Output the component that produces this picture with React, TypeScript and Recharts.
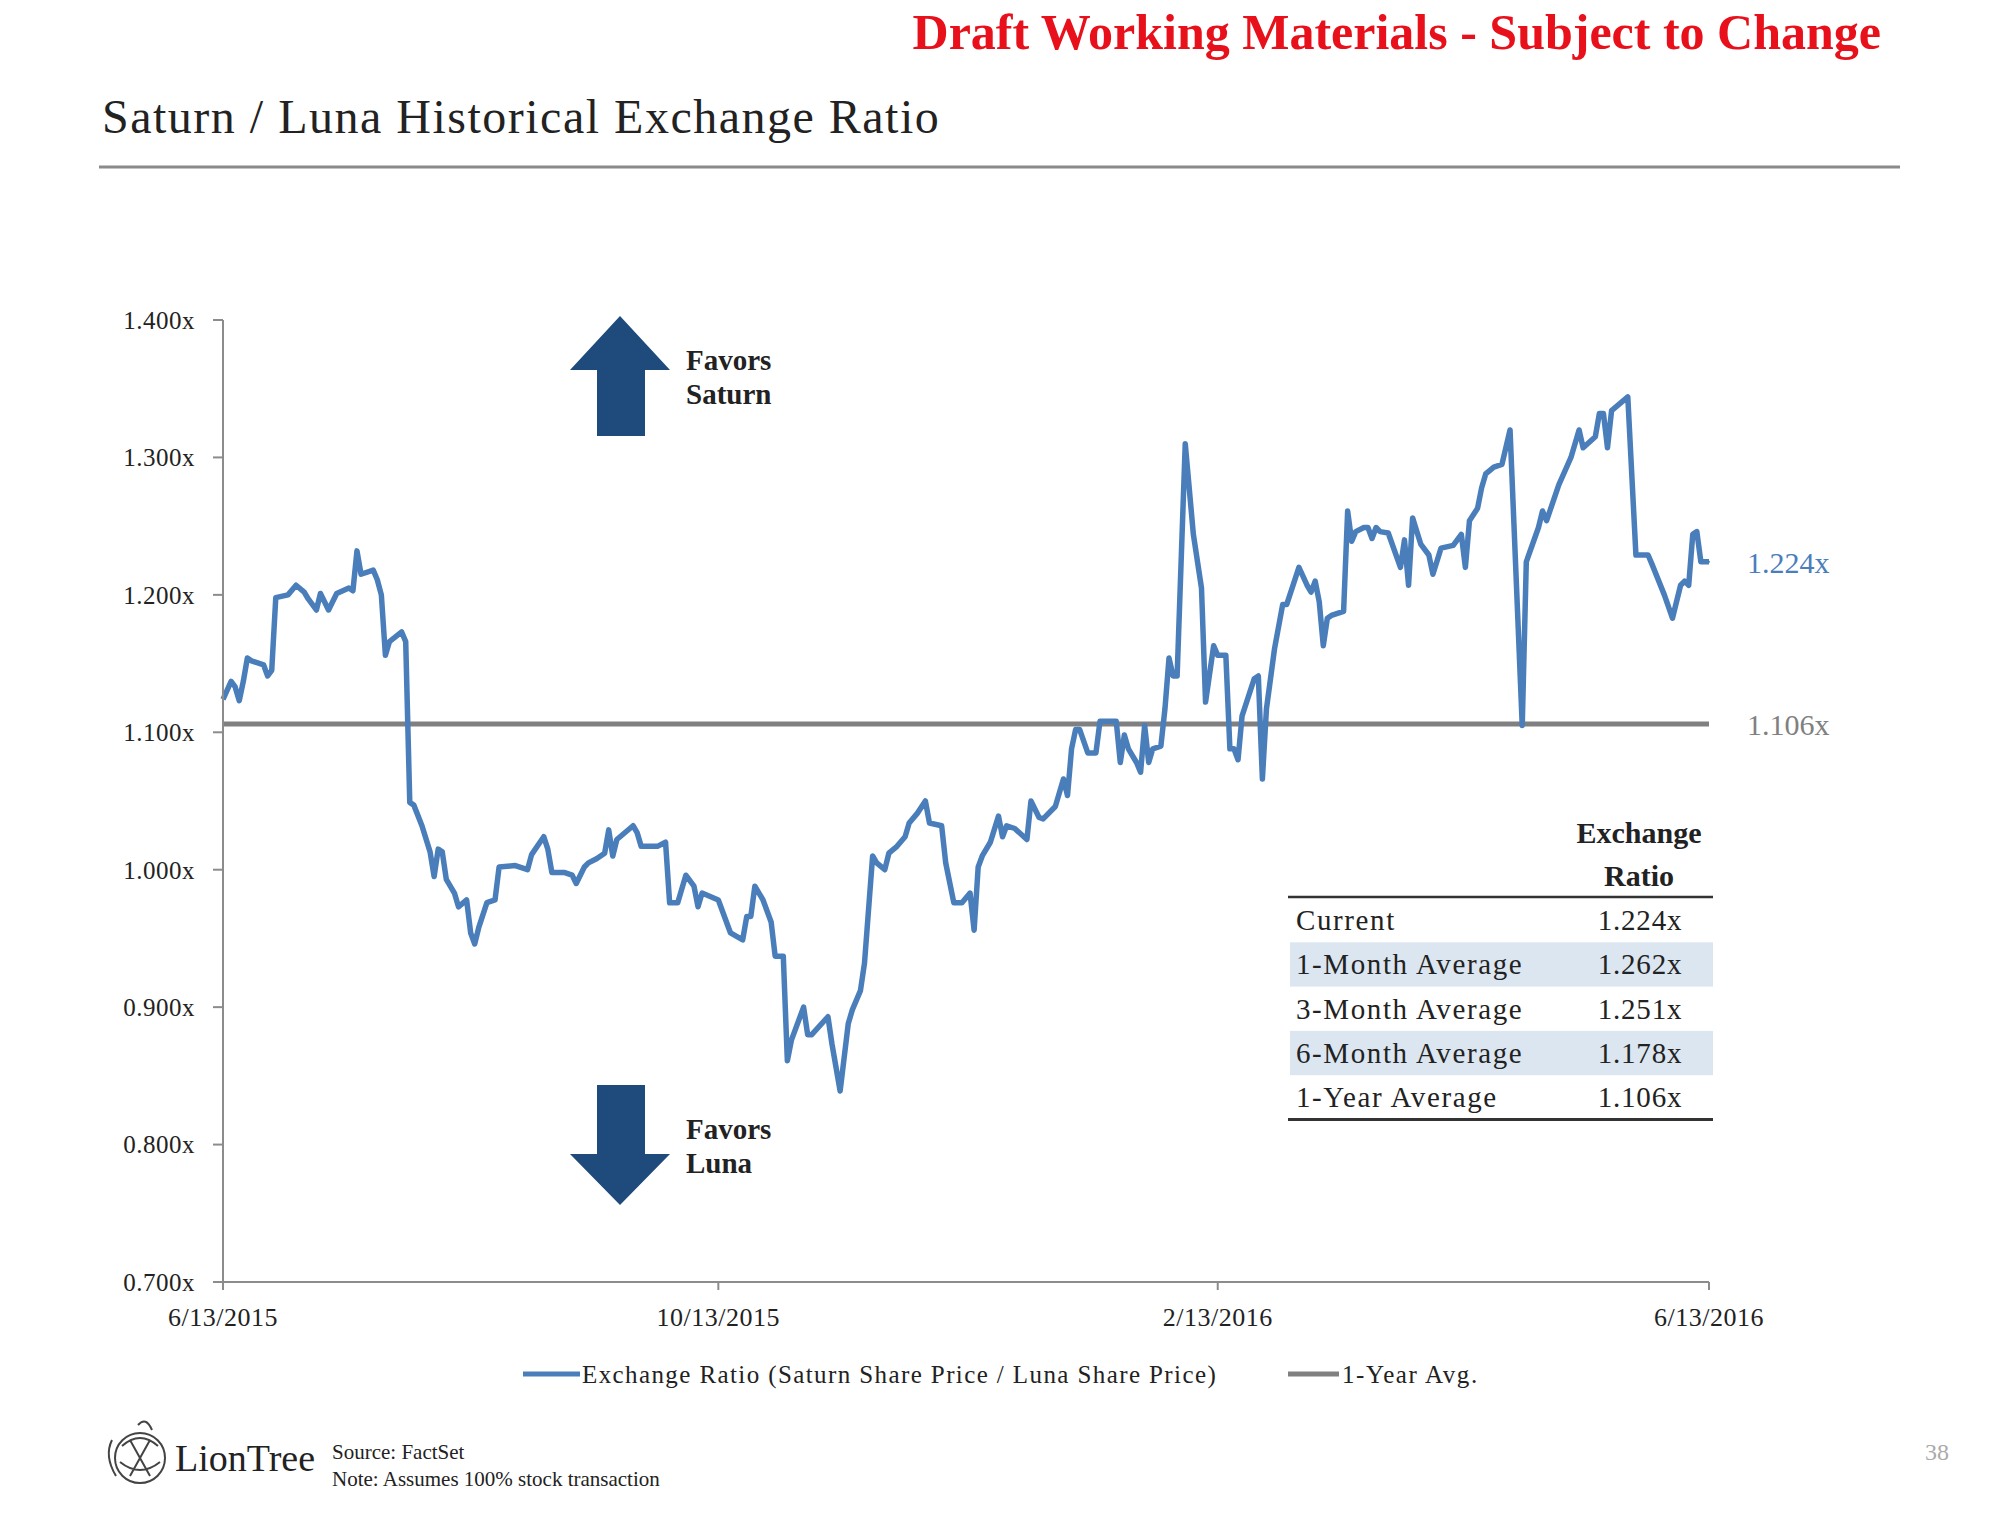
import React from "react";
import { LineChart, Line, XAxis, YAxis, ReferenceLine, ReferenceDot } from "recharts";

// days since 6/13/2015
const dayOffsets = [
  0, 2, 3, 4, 5, 6, 7, 10, 11, 12,
  13, 16, 18, 20, 21, 23, 24, 25, 26, 28,
  31, 32, 33, 34, 37, 38, 39, 40, 41, 44,
  45, 46, 47, 49, 51, 52, 53, 54, 55, 57,
  58, 60, 61, 62, 63, 65, 67, 68, 72, 75,
  76, 79, 80, 81, 84, 86, 87, 89, 90, 92,
  94, 95, 96, 97, 101, 102, 103, 107, 109, 110,
  112, 114, 116, 117, 118, 122, 125, 128, 129, 130,
  131, 133, 135, 136, 138, 139, 140, 143, 144, 145,
  149, 150, 152, 154, 155, 157, 158, 160, 161, 163,
  164, 166, 168, 169, 171, 173, 174, 177, 178, 180,
  182, 184, 185, 186, 187, 189, 191, 192, 193, 195,
  198, 199, 201, 202, 205, 207, 208, 209, 210, 211,
  213, 215, 216, 220, 221, 222, 223, 225, 226, 227,
  228, 229, 231, 232, 233, 234, 235, 237, 239, 241,
  242, 244, 245, 247, 248, 249, 250, 251, 254, 255,
  256, 257, 259, 261, 262, 265, 267, 268, 269, 270,
  271, 272, 273, 276, 277, 278, 279, 281, 282, 283,
  284, 285, 287, 290, 291, 292, 293, 295, 297, 298,
  300, 303, 305, 306, 307, 309, 310, 311, 313, 315,
  317, 320, 321, 324, 325, 326, 329, 332, 334, 335,
  338, 339, 340, 341, 342, 346, 348, 351, 352, 355,
  357, 359, 360, 361, 362, 363, 364, 366,
];

const ratios = [
  1.124, 1.137, 1.133, 1.123, 1.137, 1.154, 1.152, 1.149, 1.141, 1.145,
  1.198, 1.2, 1.207, 1.202, 1.197, 1.189, 1.201, 1.195, 1.189, 1.201,
  1.205, 1.203, 1.232, 1.215, 1.218, 1.211, 1.2, 1.156, 1.166, 1.173,
  1.166, 1.049, 1.047, 1.032, 1.013, 0.995, 1.015, 1.013, 0.993, 0.983,
  0.973, 0.978, 0.954, 0.946, 0.958, 0.976, 0.978, 1.002, 1.003, 1.0,
  1.011, 1.024, 1.015, 0.998, 0.998, 0.996, 0.99, 1.002, 1.005, 1.008,
  1.012, 1.029, 1.01, 1.022, 1.032, 1.027, 1.017, 1.017, 1.02, 0.976,
  0.976, 0.996, 0.988, 0.973, 0.983, 0.978, 0.954, 0.949, 0.966, 0.966,
  0.988, 0.978, 0.962, 0.937, 0.937, 0.861, 0.876, 0.9, 0.88, 0.88,
  0.893, 0.873, 0.839, 0.888, 0.898, 0.912, 0.932, 1.01, 1.005, 1.0,
  1.012, 1.017, 1.024, 1.034, 1.041, 1.05, 1.034, 1.032, 1.005, 0.976,
  0.976, 0.983, 0.956, 1.002, 1.01, 1.02, 1.039, 1.024, 1.032, 1.03,
  1.022, 1.05, 1.038, 1.037, 1.046, 1.066, 1.054, 1.088, 1.102, 1.102,
  1.085, 1.085, 1.108, 1.108, 1.078, 1.098, 1.088, 1.078, 1.071, 1.105,
  1.078, 1.088, 1.09, 1.117, 1.154, 1.141, 1.141, 1.31, 1.244, 1.205,
  1.122, 1.163, 1.156, 1.156, 1.088, 1.088, 1.08, 1.112, 1.139, 1.141,
  1.066, 1.117, 1.161, 1.193, 1.193, 1.22, 1.207, 1.202, 1.21, 1.195,
  1.163, 1.183, 1.185, 1.188, 1.261, 1.239, 1.246, 1.249, 1.249, 1.241,
  1.249, 1.246, 1.245, 1.22, 1.24, 1.207, 1.256, 1.237, 1.229, 1.215,
  1.234, 1.236, 1.244, 1.22, 1.254, 1.263, 1.278, 1.288, 1.293, 1.295,
  1.32, 1.105, 1.224, 1.249, 1.261, 1.254, 1.28, 1.3, 1.32, 1.307,
  1.315, 1.332, 1.332, 1.307, 1.334, 1.344, 1.229, 1.229, 1.222, 1.2,
  1.183, 1.207, 1.21, 1.207, 1.244, 1.246, 1.224, 1.224,
];

const xTicks = [0, 122, 245, 366];
const xTickLabels = ["6/13/2015", "10/13/2015", "2/13/2016", "6/13/2016"];
const yTicks = [0.7, 0.8, 0.9, 1.0, 1.1, 1.2, 1.3, 1.4];

const oneYearAvg = 1.106;
const seriesNames = ["Exchange Ratio (Saturn Share Price / Luna Share Price)", "1-Year Avg."];

const summaryLabels = ["Current", "1-Month Average", "3-Month Average", "6-Month Average", "1-Year Average"];
const summaryValues = [1.224, 1.262, 1.251, 1.178, 1.106];

const BLUE = "#4a7ebb";
const GREY = "#808080";
const NAVY = "#1f4a7c";
const FONT = "'Liberation Serif', 'Times New Roman', serif";

const fmt = (v: number) => v.toFixed(3) + "x";

export default function App() {
  const data = dayOffsets.map((d, i) => ({ day: d, ratio: ratios[i] }));
  const last = data[data.length - 1];

  const rowTop = 898;
  const rowH = 44.3;

  return (
    <div style={{ position: "absolute", left: 0, top: 0, width: 2000, height: 1523, background: "#fff" }}>
      <LineChart
        width={2000}
        height={1523}
        data={data}
        margin={{ top: 320, right: 291, bottom: 181, left: 113 }}
      >
        <XAxis
          dataKey="day"
          type="number"
          domain={[0, 366]}
          ticks={xTicks}
          tickFormatter={(v: number) => xTickLabels[xTicks.indexOf(v)] ?? ""}
          height={60}
          tickSize={8}
          tickMargin={18}
          axisLine={{ stroke: "#8c8c8c", strokeWidth: 2 }}
          tickLine={{ stroke: "#8c8c8c", strokeWidth: 2 }}
          tick={{ fill: "#222", fontSize: 26, fontFamily: FONT, letterSpacing: 0.5 }}
        />
        <YAxis
          type="number"
          domain={[0.7, 1.4]}
          ticks={yTicks}
          tickFormatter={fmt}
          width={110}
          tickSize={10}
          tickMargin={18}
          axisLine={{ stroke: "#8c8c8c", strokeWidth: 2 }}
          tickLine={{ stroke: "#8c8c8c", strokeWidth: 2 }}
          tick={{ fill: "#222", fontSize: 25, fontFamily: FONT, letterSpacing: 0.5 }}
        />
        <ReferenceLine
          y={oneYearAvg}
          stroke={GREY}
          strokeWidth={5}
          label={{ value: fmt(oneYearAvg), position: "right", offset: 38, fill: GREY, fontSize: 30, fontFamily: FONT }}
        />
        <Line
          type="linear"
          dataKey="ratio"
          name={seriesNames[0]}
          stroke={BLUE}
          strokeWidth={5.5}
          strokeLinejoin="round"
          dot={false}
          isAnimationActive={false}
        />
        <ReferenceDot
          x={last.day}
          y={last.ratio}
          r={1}
          fill={BLUE}
          stroke="none"
          label={{ value: fmt(last.ratio), position: "right", offset: 37, fill: BLUE, fontSize: 30, fontFamily: FONT }}
        />
      </LineChart>

      <svg
        width={2000}
        height={1523}
        style={{ position: "absolute", left: 0, top: 0, pointerEvents: "none" }}
        fontFamily={FONT}
      >
        {/* headers */}
        <text x={1881} y={32} textAnchor="end" dominantBaseline="central" fontSize={50} fontWeight="bold" fill="#e8101a">
          Draft Working Materials - Subject to Change
        </text>
        <text x={102} y={116} dominantBaseline="central" fontSize={48} fill="#222" letterSpacing={1.5}>
          Saturn / Luna Historical Exchange Ratio
        </text>
        <line x1={99} x2={1900} y1={167} y2={167} stroke="#8a8a8a" strokeWidth={3} />

        {/* arrows */}
        <polygon points="620,316 670,370 645,370 645,436 597,436 597,370 570,370" fill={NAVY} />
        <text x={686} y={360} dominantBaseline="central" fontSize={29} fontWeight="bold" fill="#222">Favors</text>
        <text x={686} y={394} dominantBaseline="central" fontSize={29} fontWeight="bold" fill="#222">Saturn</text>
        <polygon points="597,1085 645,1085 645,1154 670,1154 620,1205 570,1154 597,1154" fill={NAVY} />
        <text x={686} y={1129} dominantBaseline="central" fontSize={29} fontWeight="bold" fill="#222">Favors</text>
        <text x={686} y={1163} dominantBaseline="central" fontSize={29} fontWeight="bold" fill="#222">Luna</text>

        {/* summary table */}
        <text x={1639} y={832} textAnchor="middle" dominantBaseline="central" fontSize={30} fontWeight="bold" fill="#222">Exchange</text>
        <text x={1639} y={875} textAnchor="middle" dominantBaseline="central" fontSize={30} fontWeight="bold" fill="#222">Ratio</text>
        {summaryLabels.map((lab, i) => (
          <g key={lab}>
            {i % 2 === 1 && (
              <rect x={1290} y={rowTop + i * rowH} width={423} height={rowH} fill="#dce6f1" />
            )}
            <text x={1296} y={rowTop + i * rowH + rowH / 2} dominantBaseline="central" fontSize={29} fill="#222" letterSpacing={1.6}>
              {lab}
            </text>
            <text x={1640} y={rowTop + i * rowH + rowH / 2} textAnchor="middle" dominantBaseline="central" fontSize={29} fill="#222" letterSpacing={0.8}>
              {fmt(summaryValues[i])}
            </text>
          </g>
        ))}
        <line x1={1288} x2={1713} y1={897} y2={897} stroke="#333" strokeWidth={2.5} />
        <line x1={1288} x2={1713} y1={rowTop + 5 * rowH} y2={rowTop + 5 * rowH} stroke="#333" strokeWidth={3} />

        {/* legend */}
        <line x1={523} x2={580} y1={1374} y2={1374} stroke={BLUE} strokeWidth={5} />
        <text x={582} y={1374} dominantBaseline="central" fontSize={25} fill="#222" letterSpacing={1.4}>{seriesNames[0]}</text>
        <line x1={1288} x2={1339} y1={1374} y2={1374} stroke={GREY} strokeWidth={5} />
        <text x={1342} y={1374} dominantBaseline="central" fontSize={25} fill="#222" letterSpacing={1.6}>{seriesNames[1]}</text>

        {/* footer */}
        <g stroke="#444" strokeWidth={2} fill="none">
          <circle cx={140} cy={1458} r={25} />
          <path d="M122,1446 Q140,1430 158,1446 M120,1462 Q140,1478 160,1462 M130,1440 L150,1476 M150,1440 L130,1476" />
          <path d="M112,1440 Q104,1456 116,1476 M138,1425 Q146,1416 152,1430" />
        </g>
        <text x={175} y={1458} dominantBaseline="central" fontSize={38} fill="#222">LionTree</text>
        <text x={332} y={1452} dominantBaseline="central" fontSize={21} fill="#222">Source: FactSet</text>
        <text x={332} y={1479} dominantBaseline="central" fontSize={21} fill="#222">Note: Assumes 100% stock transaction</text>
        <text x={1949} y={1452} textAnchor="end" dominantBaseline="central" fontSize={24} fill="#aaa">38</text>
      </svg>
    </div>
  );
}
